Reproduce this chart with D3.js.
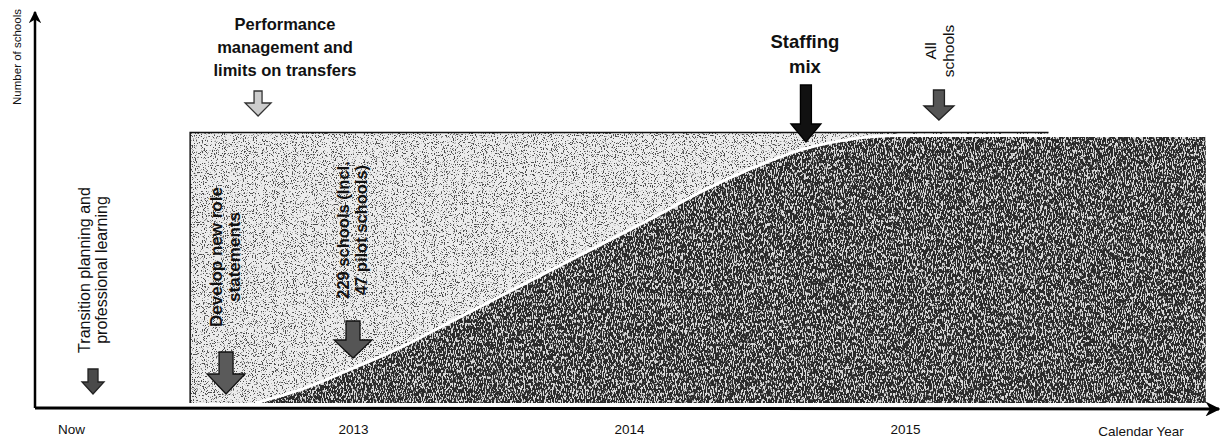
<!DOCTYPE html>
<html>
<head>
<meta charset="utf-8">
<script src="https://cdn.jsdelivr.net/npm/d3@7/dist/d3.min.js"></script>
<style>
  html, body { margin: 0; padding: 0; background: #fff; }
  svg { display: block; }
  text { font-family: "Liberation Sans", Arial, sans-serif; fill: #111; }
</style>
</head>
<body>
<div id="chart"></div>
<script>
// data ---------------------------------------------------------------
const yearTicks = [2012, 2013, 2014, 2015];
const tickLabels = ['Now', '2013', '2014', '2015'];
// rollout curve: calendar year -> share of schools (%)
const rolloutYears = [2012.645, 2012.81, 2012.99, 2013.17, 2013.35, 2013.53, 2013.71, 2013.89,
  2014.08, 2014.26, 2014.44, 2014.62, 2014.80, 2014.98, 2016.09];
const rolloutShare = [0, 5, 12.5, 20.5, 30, 39.5, 49, 58.5, 68.5, 78.5, 87, 94, 98, 99.4, 99.4];
// planning window (light block)
const planYears = [2012.41, 2015.52];
const planShare = 100.6;
// milestones
const milestoneYears = [2012.058, 2012.54, 2012.656, 2013.0, 2014.641, 2015.123];
const milestoneNames = ['transition', 'develop', 'performance', 'schools229', 'staffing', 'all'];

// svg -----------------------------------------------------------------
const width = 1223, height = 439;
const svg = d3.select('#chart').append('svg')
  .attr('width', width)
  .attr('height', height);

const x = d3.scaleLinear().domain([2012, 2015]).range([77, 905]);
const y = d3.scaleLinear().domain([0, 100]).range([403, 134]);

// grain filters (scanned look)
const defs = svg.append('defs');
function grain(id, freq, seed, col, k, b) {
  const f = defs.append('filter').attr('id', id)
    .attr('x', 0).attr('y', 0).attr('width', 1).attr('height', 1)
    .attr('color-interpolation-filters', 'sRGB');
  f.append('feTurbulence').attr('type', 'fractalNoise')
    .attr('baseFrequency', freq).attr('numOctaves', 2).attr('seed', seed).attr('result', 'n');
  f.append('feColorMatrix').attr('in', 'n').attr('type', 'matrix')
    .attr('values', `0 0 0 0 ${col} 0 0 0 0 ${col} 0 0 0 0 ${col} ${k} 0 0 0 ${b}`)
    .attr('result', 's');
  f.append('feComposite').attr('in', 's').attr('in2', 'SourceGraphic')
    .attr('operator', 'in').attr('result', 'c');
  const m = f.append('feMerge');
  m.append('feMergeNode').attr('in', 'SourceGraphic');
  m.append('feMergeNode').attr('in', 'c');
}
grain('grainLight', '0.9', 4, 0.3, 12, -6.9);
grain('grainDark', '1.1 0.3', 7, 0.85, 12, -6.1);

// light block ---------------------------------------------------------
svg.append('rect')
  .attr('x', x(planYears[0]))
  .attr('y', y(planShare))
  .attr('width', x(planYears[1]) - x(planYears[0]))
  .attr('height', y(0) - y(planShare))
  .attr('fill', '#ececec')
  .attr('filter', 'url(#grainLight)');
svg.append('path')
  .attr('d', d3.line()([[x(planYears[0]), y(0)], [x(planYears[0]), y(planShare)], [x(planYears[1]), y(planShare)]]))
  .attr('fill', 'none')
  .attr('stroke', '#111')
  .attr('stroke-width', 1.5);

// dark rollout area --------------------------------------------------
const pts = rolloutYears.map((d, i) => [d, rolloutShare[i]]);
const area = d3.area()
  .x(d => x(d[0]))
  .y0(y(0))
  .y1(d => y(d[1]))
  .curve(d3.curveMonotoneX);
svg.append('path')
  .datum(pts)
  .attr('d', area)
  .attr('fill', '#2a2a2a')
  .attr('filter', 'url(#grainDark)');
svg.append('path')
  .datum(pts)
  .attr('d', d3.line().x(d => x(d[0])).y(d => y(d[1])).curve(d3.curveMonotoneX))
  .attr('fill', 'none')
  .attr('stroke', '#fff')
  .attr('stroke-width', 3);

// axes -----------------------------------------------------------------
defs.append('marker').attr('id', 'arrowHead')
  .attr('viewBox', '0 0 10 10').attr('refX', 9).attr('refY', 5)
  .attr('markerWidth', 5).attr('markerHeight', 5)
  .attr('markerUnits', 'strokeWidth')
  .attr('orient', 'auto')
  .append('path').attr('d', 'M0,0L10,5L0,10L3,5Z').attr('fill', '#000');

svg.append('line')
  .attr('x1', 35).attr('y1', y(0) + 5)
  .attr('x2', 35).attr('y2', 12)
  .attr('stroke', '#000').attr('stroke-width', 2.5)
  .attr('marker-end', 'url(#arrowHead)');
svg.append('line')
  .attr('x1', 35).attr('y1', y(0) + 5)
  .attr('x2', 1219).attr('y2', y(0) + 6)
  .attr('stroke', '#000').attr('stroke-width', 3)
  .attr('marker-end', 'url(#arrowHead)');

const xAxis = d3.axisBottom(x)
  .tickValues(yearTicks)
  .tickSize(0)
  .tickPadding(0)
  .tickFormat((d, i) => tickLabels[i]);
const gx = svg.append('g')
  .attr('transform', `translate(0,${y(0) + 21})`)
  .call(xAxis);
gx.select('.domain').remove();
gx.selectAll('text')
  .attr('font-size', 13.5)
  .attr('fill', '#111')
  .attr('font-family', '"Liberation Sans", Arial, sans-serif');
gx.selectAll('.tick').filter(d => d === 2012).select('text').attr('dx', -6);

svg.append('text')
  .attr('x', 1141).attr('y', 436)
  .attr('text-anchor', 'middle')
  .attr('font-size', 13.5)
  .text('Calendar Year');

svg.append('text')
  .attr('transform', 'translate(21,57) rotate(-90)')
  .attr('text-anchor', 'middle')
  .attr('font-size', 11.5)
  .text('Number of schools');

// milestone arrows ---------------------------------------------------
const arrowSpec = {
  transition: {top: 369, w: 22, h: 25, sw: 10, hh: 12, fill: '#4a4a4a', stroke: '#222'},
  develop: {top: 352, w: 38, h: 42, sw: 14, hh: 20, fill: '#5a5a5a', stroke: '#111'},
  performance: {top: 91, w: 26, h: 25, sw: 8, hh: 13, fill: '#ccc', stroke: '#333'},
  schools229: {top: 321, w: 38, h: 37, sw: 14, hh: 18, fill: '#555', stroke: '#111'},
  staffing: {top: 85, w: 30, h: 57, sw: 11, hh: 18, fill: '#111', stroke: '#000'},
  all: {top: 90, w: 30, h: 30, sw: 11, hh: 14, fill: '#555', stroke: '#222'}
};
function blockArrow(cx, s) {
  const t = s.top, b = s.top + s.h, m = b - s.hh;
  return d3.line()([[cx - s.sw / 2, t], [cx + s.sw / 2, t], [cx + s.sw / 2, m], [cx + s.w / 2, m],
    [cx, b], [cx - s.w / 2, m], [cx - s.sw / 2, m]]) + 'Z';
}
milestoneYears.forEach((yr, i) => {
  const s = arrowSpec[milestoneNames[i]];
  svg.append('path')
    .attr('d', blockArrow(x(yr), s))
    .attr('fill', s.fill)
    .attr('stroke', s.stroke)
    .attr('stroke-width', 1.3)
    .attr('stroke-linejoin', 'miter');
});

// milestone labels -----------------------------------------------------
function rotLabel(cx, cy, lines, size, bold, gap) {
  const t = svg.append('text')
    .attr('transform', `translate(${cx},${cy}) rotate(-90)`)
    .attr('text-anchor', 'middle')
    .attr('font-size', size)
    .attr('font-weight', bold ? 'bold' : 'normal');
  lines.forEach((l, i) => {
    t.append('tspan').attr('x', 0).attr('y', i * gap).text(l);
  });
}
function flatLabel(cx, cy, lines, size, gap) {
  const t = svg.append('text')
    .attr('text-anchor', 'middle')
    .attr('font-size', size)
    .attr('font-weight', 'bold');
  lines.forEach((l, i) => {
    t.append('tspan').attr('x', cx).attr('y', cy + i * gap).text(l);
  });
}
rotLabel(x(milestoneYears[0]) - 3, 270, ['Transition planning and', 'professional learning'], 16, false, 17);
rotLabel(x(milestoneYears[1]) - 4, 257, ['Develop new role', 'statements'], 17, true, 18);
rotLabel(x(milestoneYears[3]) - 4, 230, ['229 schools (Incl.', '47 pilot schools)'], 16.5, true, 18);
rotLabel(x(milestoneYears[5]) - 3, 51, ['All', 'schools'], 15.5, false, 18);
flatLabel(285, 30, ['Performance', 'management and', 'limits on transfers'], 16.5, 23);
flatLabel(x(milestoneYears[4]) - 1, 48, ['Staffing', 'mix'], 18.5, 25);
</script>
</body>
</html>
